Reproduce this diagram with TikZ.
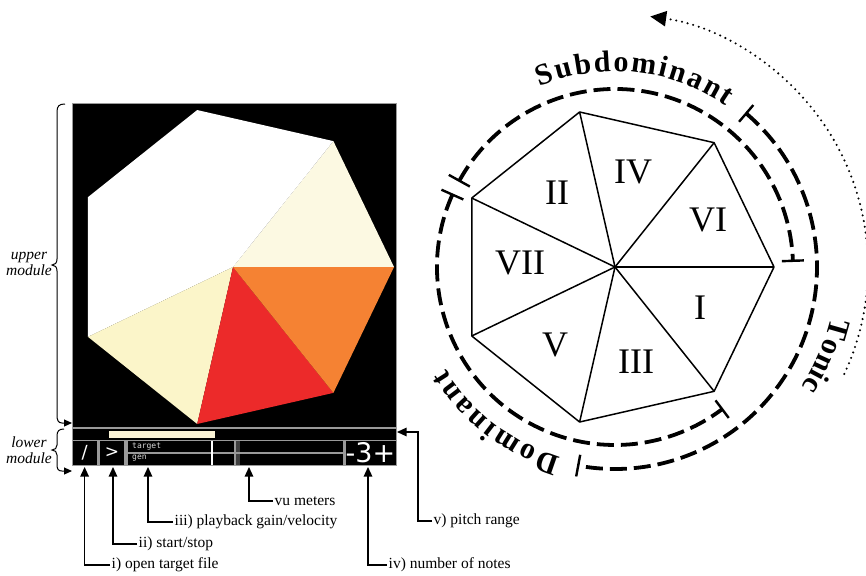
\documentclass[tikz,border=0pt]{standalone}
\usepackage{fontspec}
\setmainfont{Liberation Serif}
\newfontfamily\uisans{DejaVu Sans}
\newfontfamily\uimono{DejaVu Sans Mono}
\usetikzlibrary{arrows.meta}
\definecolor{creamA}{HTML}{FCF9E2}
\definecolor{creamB}{HTML}{FBF5C9}
\definecolor{redC}{HTML}{EC2A2A}
\definecolor{orangeC}{HTML}{F58233}
\definecolor{uigray}{HTML}{9A9A9A}
\definecolor{barcream}{HTML}{FBF4D6}
\begin{document}
\begin{tikzpicture}[x=1pt,y=-1pt,
  arr/.style={line width=1.2pt,-{Triangle[length=9.5pt,width=8.5pt]}},
  lab/.style={font=\fontsize{15.5}{16}\selectfont, inner sep=1.5pt, anchor=west},
  modlab/.style={font=\fontsize{15.5}{16}\selectfont\itshape, align=center, inner sep=0pt},
  bracearr/.style={line width=1pt,-{Triangle[length=8pt,width=7pt]}},
  roman/.style={font=\fontsize{36}{36}\selectfont, inner sep=0pt},
  curv/.style={font=\fontsize{30}{30}\selectfont\bfseries, inner sep=0pt, anchor=mid},
  dsh/.style={line width=3.8pt, dash pattern=on 17pt off 7pt},
  tickmark/.style={line width=2.4pt},
  dots/.style={line width=2.3pt, line cap=round, dash pattern=on 0pt off 5.8pt},
  heplines/.style={line width=1.5pt, line join=round},
  uitext/.style={text=white, inner sep=0pt},
]
\useasboundingbox (0,0) rectangle (866,575);

% ---------------- left: upper module ----------------
\fill[uigray] (71.5,103.5) rectangle (396.5,466);
\fill[black] (72.5,104.5) rectangle (395.5,426.5);
\begin{scope}[shift={(233,267)}, yscale=-1]
  \fill[creamA] (0,0) -- (0:161) -- (51.43:161) -- cycle;
  \fill[white] (0,0) -- (51.43:161) -- (102.86:161) -- (154.29:161) -- (205.71:161) -- cycle;
  \fill[creamB] (0,0) -- (205.71:161) -- (257.14:161) -- cycle;
  \fill[redC] (0,0) -- (257.14:161) -- (308.57:161) -- cycle;
  \fill[orangeC] (0,0) -- (308.57:161) -- (360:161) -- cycle;
\end{scope}

% ---------------- lower module ----------------
\fill[black] (72.5,428.5) rectangle (395.5,439.5);
\fill[barcream] (109,430.5) rectangle (215,437.5);
\fill[black] (72.5,441) rectangle (96.7,465);
\fill[black] (100,441) rectangle (124,465);
\fill[black] (127.7,441) rectangle (234,452);
\fill[black] (127.7,453.5) rectangle (234,465);
\draw[white, line width=1.6pt] (211.7,441) -- (211.7,465);
\fill[black] (235.7,441) rectangle (343.3,452);
\fill[black] (235.7,453.5) rectangle (343.3,465);
\fill[black!75] (235.7,441) rectangle (239.5,452);
\fill[black!75] (235.7,453.5) rectangle (239.5,465);
\fill[black] (346,441) rectangle (395.5,465);

\node[uitext, font=\uisans\fontsize{18}{18}\selectfont] (openbtn) at (84.6,453) {/};
\node[uitext, font=\uisans\fontsize{17}{17}\selectfont] (playbtn) at (112,453) {>};
\node[uitext, text=white!85!black, font=\uimono\fontsize{8}{8}\selectfont, anchor=west] (tgt) at (132,446.5) {target};
\node[uitext, text=white!85!black, font=\uimono\fontsize{8}{8}\selectfont, anchor=west] (gen) at (132,458.5) {gen};
\node[uitext, font=\uisans\fontsize{27}{27}\selectfont] (range) at (370.5,453) {-3+};

% ---------------- module braces ----------------
\node[modlab] (upperlab) at (29,264) {upper\\module};
\node[modlab] (lowerlab) at (29,450) {lower\\module};
\coordinate (umtop) at (65,104);
\coordinate (umbot) at (72,423);
\coordinate (lmtop) at (64,429);
\coordinate (lmbot) at (72,471);
\draw[bracearr] (umtop) .. controls (59,104) and (57,106) .. (57,112) -- (57,259)
  .. controls (57,263) and (55,265) .. (52,265) .. controls (55,265) and (57,267) .. (57,271)
  -- (57,415) .. controls (57,420) and (58,423) .. (62,423) -- (umbot);
\draw[bracearr] (lmtop) .. controls (59,429) and (57,431) .. (57,436) -- (57,445)
  .. controls (57,448) and (55,450) .. (52,450) .. controls (55,450) and (57,452) .. (57,455)
  -- (57,464) .. controls (57,469) and (58,471) .. (62,471) -- (lmbot);

% ---------------- callouts ----------------
\coordinate (t1) at (84.6,467);
\coordinate (t2) at (113,467);
\coordinate (t3) at (148,467);
\coordinate (t4) at (249,467);
\coordinate (t6) at (368,467);
\coordinate (t5) at (397,432);
\coordinate (c5) at (418,521);
\node[lab] (lab1) at (110,565) {i) open target file};
\node[lab] (lab2) at (137,544) {ii) start/stop};
\node[lab] (lab3) at (173,522) {iii) playback gain/velocity};
\node[lab] (lab4) at (273,501) {vu meters};
\node[lab] (lab6) at (387,565) {iv) number of notes};
\node[lab] (lab5) at (432,521) {v) pitch range};
\draw[arr] (lab1.west) -| (t1);
\draw[arr] (lab2.west) -| (t2);
\draw[arr] (lab3.west) -| (t3);
\draw[arr] (lab4.west) -| (t4);
\draw[arr] (lab6.west) -| (t6);
\draw[arr] (lab5.west) -- (c5) |- (t5);

% ---------------- right: chord heptagon ----------------
\begin{scope}[shift={(615,267)}, yscale=-1]
  \coordinate (o) at (0,0);
  \foreach \i in {0,...,6} \coordinate (v\i) at ({\i*360/7}:159);
  \draw[heplines] (v0) -- (v1) -- (v2) -- (v3) -- (v4) -- (v5) -- (v6) -- cycle;
  \foreach \i in {0,...,6} \draw[heplines] (o) -- (v\i);

  % function arcs
  \draw[dsh] (151:178) arc[start angle=151,end angle=2,radius=178];
  \draw[dsh] (156:178) arc[start angle=156,end angle=307,radius=178];
  \draw[dsh] (49.5:202) arc[start angle=49.5,end angle=-100.5,radius=202];
  \draw[tickmark] (151:166) -- (151:190);
  \draw[tickmark] (2:167) -- (2:189);
  \draw[tickmark] (156:166) -- (156:190);
  \draw[tickmark] (307:167) -- (307:189);
  \draw[tickmark] (49.5:191) -- (49.5:213);
  \draw[tickmark] (259.5:191) -- (259.5:213);

  % dotted rotation arrow
  \draw[dots, -{Triangle[length=16pt,width=15pt]}] (-25:253) arc[start angle=-25,end angle=82,radius=253];

  % curved labels
  \foreach \ch/\s [count=\k] in {S/8.34,u/27.42,b/46.5,d/65.58,o/83.82,m/106.22,i/125.28,n/140.19,a/158.43,n/176.67,t/192.41}{
    \pgfmathsetmacro{\ang}{84-(\s-98.7)/198*57.2958}
    \node[curv, rotate=\ang-90] (sub\k) at (\ang:198) {\ch};
  }
  \foreach \ch/\s [count=\k] in {T/10.0,o/28.11,n/44.55,i/57.66,c/69.09}{
    \pgfmathsetmacro{\ang}{-23-(\s-37.9)/224*57.2958}
    \node[curv, rotate=\ang-90] (ton\k) at (\ang:224) {\ch};
  }
  \foreach \ch/\s [count=\k] in {D/10.83,o/32.16,m/55.16,i/74.82,n/90.33,a/109.17,n/128.01,t/144.35}{
    \pgfmathsetmacro{\ang}{232.5-(\s-74.67)/200*57.2958}
    \node[curv, rotate=\ang-90] (dom\k) at (\ang:200) {\ch};
  }
\end{scope}

\node[roman] (rI) at (700,308) {I};
\node[roman] (rIII) at (636,362) {III};
\node[roman] (rV) at (555,345) {V};
\node[roman] (rVII) at (520,263) {VII};
\node[roman] (rII) at (557,193) {II};
\node[roman] (rIV) at (633,172) {IV};
\node[roman] (rVI) at (708,220) {VI};
\end{tikzpicture}
\end{document}
